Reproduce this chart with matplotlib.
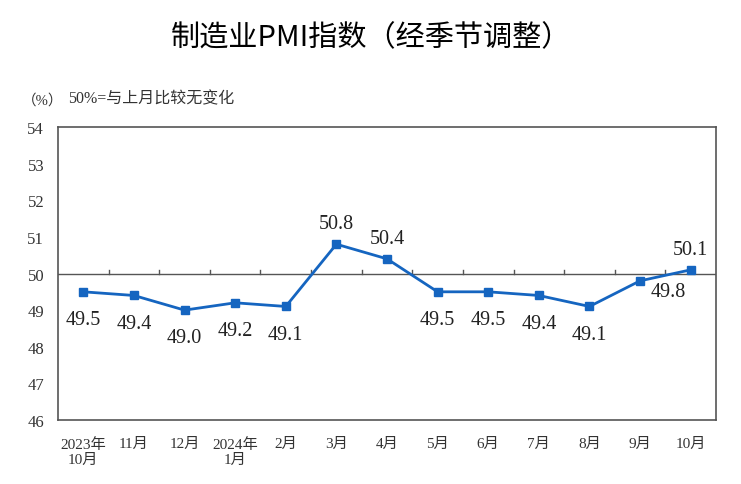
import matplotlib.pyplot as plt
import numpy as np

plt.rcParams['font.family'] = ['Liberation Serif', 'Noto Sans CJK SC']

# data
months = ['2023年\n10月', '11月', '12月', '2024年\n1月', '2月', '3月', '4月',
          '5月', '6月', '7月', '8月', '9月', '10月']
pmi = [49.5, 49.4, 49.0, 49.2, 49.1, 50.8, 50.4, 49.5, 49.5, 49.4, 49.1, 49.8, 50.1]
# label offsets in points (dx, dy)
offsets = [(0, -20), (0, -20), (0, -20), (0, -20), (0, -20), (0, 15), (0, 15),
           (0, -20), (0, -20), (0, -20), (0, -20), (20, -8), (0, 15)]

fig = plt.figure(figsize=(7.41, 4.85), dpi=100)
ax = fig.add_axes([58 / 741, 64 / 485, 658 / 741, 293 / 485])

x = np.arange(len(pmi))
ax.plot(x, pmi, color='#1565C0', lw=2, marker='s', ms=5.5, zorder=3)

# 50 reference line with small ticks at category boundaries
ax.axhline(50, color='#555555', lw=1, zorder=2)
for b in np.arange(0.5, len(pmi) - 1, 1):
    ax.plot([b, b], [50, 50.1], color='#555555', lw=1, zorder=2)

for xi, v, (dx, dy) in zip(x, pmi, offsets):
    ax.annotate(f'{v:.1f}', (xi, v), xytext=(dx, dy), textcoords='offset points',
                ha='center', va='center', fontsize=14.5, color='#222222')

ax.set_xlim(-0.5, len(pmi) - 0.5)
ax.set_ylim(46, 54)
ax.set_yticks(range(46, 55))
ax.set_xticks(x)
ax.set_xticklabels(months, fontsize=11, color='#333333', va='top')
ax.tick_params(axis='y', length=0, labelsize=12, colors='#333333', pad=10)
ax.tick_params(axis='x', length=0, pad=12)
for s in ax.spines.values():
    s.set_color('#555555')
    s.set_linewidth(1.2)

fig.text(0.5, 1 - 38 / 485, '制造业PMI指数（经季节调整）', ha='center', va='center',
         fontsize=21, fontweight='medium', family=['Noto Sans CJK SC'])
fig.text(22 / 741, 1 - 101 / 485, '（%）', ha='left', va='center', fontsize=10.5, color='#333333')
fig.text(68 / 741, 1 - 99 / 485, '50%=与上月比较无变化', ha='left', va='center',
         fontsize=11.5, color='#333333')

fig.savefig('out.png', dpi=100)
